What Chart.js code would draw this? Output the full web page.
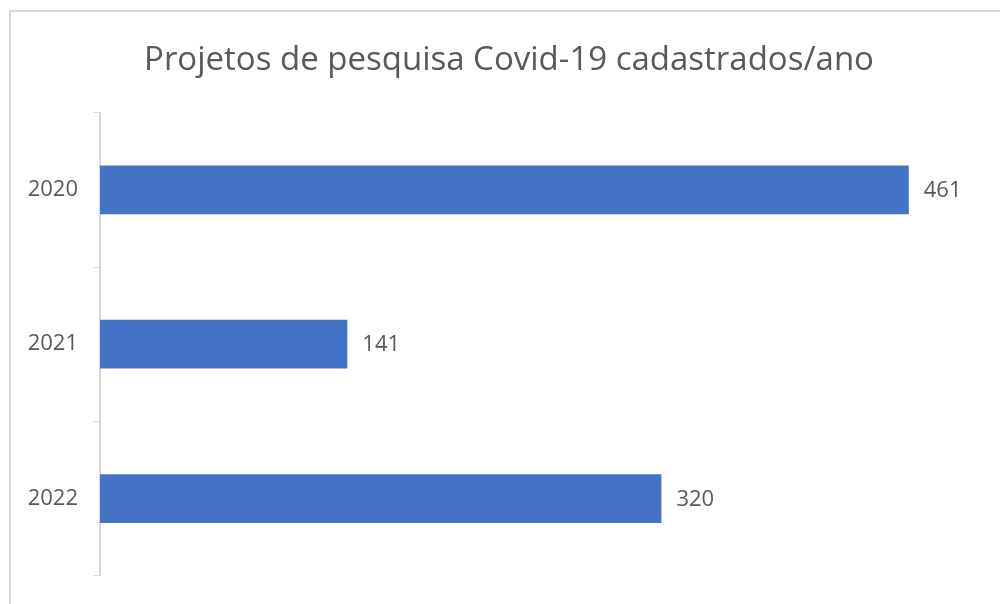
<!DOCTYPE html>
<html>
<head>
<meta charset="utf-8">
<script src="https://cdn.jsdelivr.net/npm/chart.js@4"></script>
<style>
html,body{margin:0;padding:0;background:#fff;}
#wrap{position:relative;width:1000px;height:604px;}
</style>
</head>
<body>
<div id="wrap"><canvas id="c" width="1000" height="604"></canvas></div>
<script>
const titleText = "Projetos de pesquisa Covid-19 cadastrados/ano";
const categories = ["2020", "2021", "2022"];
const projectCounts = [461, 141, 320];
const xMax = 513;

const FONT = "'Open Sans', sans-serif";
const TEXT = "#595959";

const frame = {
  id: 'frame',
  beforeDraw(chart) {
    const ctx = chart.ctx;
    ctx.save();
    ctx.strokeStyle = '#d9d9d9';
    ctx.lineWidth = 2;
    ctx.beginPath();
    ctx.moveTo(10, 604);
    ctx.lineTo(10, 11);
    ctx.lineTo(1000, 11);
    ctx.stroke();
    ctx.restore();
  }
};

const valueLabels = {
  id: 'valueLabels',
  afterDatasetsDraw(chart) {
    const ctx = chart.ctx;
    const meta = chart.getDatasetMeta(0);
    ctx.save();
    ctx.font = "22px " + FONT;
    ctx.fillStyle = TEXT;
    ctx.textAlign = 'left';
    ctx.textBaseline = 'middle';
    meta.data.forEach((bar, i) => {
      ctx.fillText(String(chart.data.datasets[0].data[i]), bar.x + 15, bar.y + 1);
    });
    ctx.restore();
  }
};

new Chart(document.getElementById('c'), {
  type: 'bar',
  data: {
    labels: categories,
    datasets: [{
      data: projectCounts,
      backgroundColor: '#4472C4',
      borderWidth: 0,
      barPercentage: 0.316,
      categoryPercentage: 1.0
    }]
  },
  options: {
    indexAxis: 'y',
    responsive: false,
    animation: false,
    devicePixelRatio: 1,
    layout: { padding: { left: 18, right: 0, top: 0, bottom: 21 } },
    plugins: {
      legend: { display: false },
      tooltip: { enabled: false },
      title: {
        display: true,
        text: titleText,
        color: TEXT,
        font: { family: FONT, size: 33, weight: 'normal' },
        padding: { top: 41, bottom: 32 }
      }
    },
    scales: {
      x: {
        display: false,
        min: 0,
        max: xMax
      },
      y: {
        afterFit(scale) { scale.width = 82; },
        grid: {
          display: true,
          drawOnChartArea: false,
          drawTicks: true,
          tickLength: 7,
          color: '#d9d9d9',
          offset: true
        },
        border: { display: true, color: '#d9d9d9', width: 2 },
        ticks: {
          color: TEXT,
          font: { family: FONT, size: 22 },
          padding: 15
        }
      }
    }
  },
  plugins: [frame, valueLabels]
});
</script>
</body>
</html>
